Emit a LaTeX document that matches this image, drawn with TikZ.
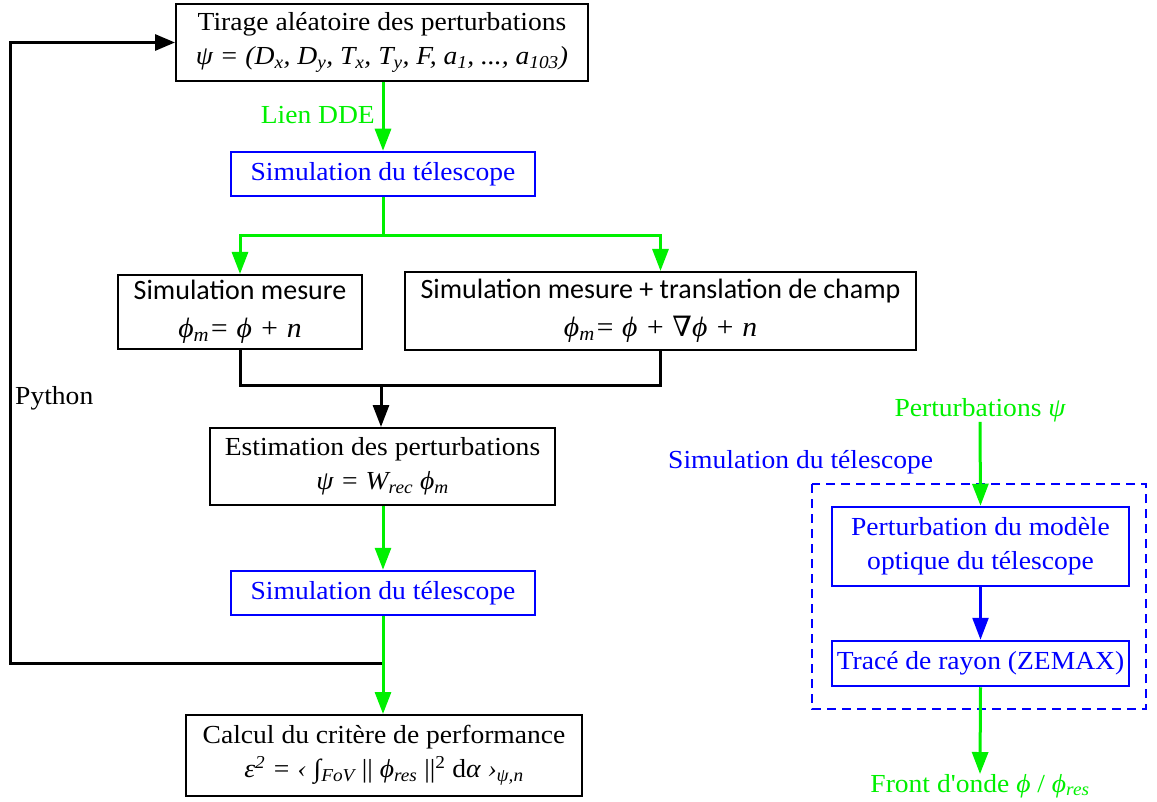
\documentclass[tikz,border=0pt]{standalone}
\usepackage{fontspec}
\setmainfont{Liberation Serif}[FakeStretch=1.06]
\newfontfamily\straightfont{Liberation Serif}[FakeStretch=1.06, Ligatures=TeXOff]
\newfontfamily\calibrifont{Carlito}
\newfontfamily\djvfont{DejaVu Serif}
\usetikzlibrary{arrows.meta}
\definecolor{gr}{RGB}{0,240,0}
\definecolor{bl}{RGB}{0,0,255}
\newcommand{\mysb}[1]{\textsubscript{#1}}
\newcommand{\mysp}[1]{\textsuperscript{#1}}
\newcommand{\vphi}{ϕ}
\tikzset{
  txt/.style={font=\fontsize{26}{34}\selectfont, align=center, inner sep=0pt},
  bbox/.style={txt, draw=black, line width=2pt, fill=white},
  blbox/.style={txt, draw=bl, text=bl, line width=2.5pt, fill=white},
  calbox/.style={bbox, font=\calibrifont\fontsize{28}{38}\selectfont},
  gline/.style={draw=gr, line width=3pt},
  kline/.style={draw=black, line width=3pt},
  bline/.style={draw=bl, line width=2.5pt},
  tipg/.style={-{Triangle[length=22pt,width=16pt]}},
}
\begin{document}
\begin{tikzpicture}[x=1pt,y=-1pt]
\useasboundingbox (0,0) rectangle (1157,802);
% left flow
\node[bbox, minimum width=412pt, minimum height=77pt] (tir) at (382,42.5)
  {Tirage aléatoire des perturbations\\
   \itshape ψ = (D\mysb{x}, D\mysb{y}, T\mysb{x}, T\mysb{y}, F, a\mysb{1}, ..., a\mysb{103})};
\node[blbox, minimum width=304pt, minimum height=44pt] (sim1) at (383,174) {Simulation du télescope};
\node[calbox, minimum width=244pt, minimum height=74pt] (mes1) at (240,312)
  {Simulation mesure\\ {\rmfamily\itshape \vphi\mysb{m}= \vphi\ + n}};
\node[calbox, minimum width=511pt, minimum height=78pt] (mes2) at (660.5,311)
  {Simulation mesure + translation de champ\\ {\rmfamily\itshape \vphi\mysb{m}= \vphi\ + {\upshape\djvfont ∇}\vphi\ + n}};
\node[bbox, minimum width=345pt, minimum height=77pt] (est) at (382.5,466.5)
  {Estimation des perturbations\\ \itshape ψ = W\mysb{rec} \vphi\mysb{m}};
\node[blbox, minimum width=304pt, minimum height=44pt] (sim2) at (383,593) {Simulation du télescope};
\node[bbox, minimum width=396pt, minimum height=81pt] (calc) at (384,755.5)
  {Calcul du critère de performance\\ \itshape ε\mysp{2} = ‹ ∫\mysb{FoV} {\upshape||} \vphi\mysb{res} {\upshape||}\mysp{\upshape 2} {\upshape d}α ›\mysb{ψ,n}};
\node[txt, text=gr, anchor=east] (lien) at (375,115) {Lien DDE};
\node[txt, anchor=west] (py) at (15,398) {Python};

% connectors
\draw[gline, tipg] (tir.south -| sim1.north) -- (sim1.north);
\coordinate (j1) at (383,236);
\draw[gline] (sim1.south) -- (j1);
\draw[gline, tipg] (j1) -| (mes1.north);
\draw[gline, tipg] (j1) -| (mes2.north);
\coordinate (j2) at (381,385);
\draw[kline] (mes1.south) |- (j2);
\draw[kline] (mes2.south) |- (j2);
\draw[kline, tipg] (j2) -- (j2 |- est.north);
\draw[gline, tipg] (est.south -| sim2.north) -- (sim2.north);
\coordinate (j3) at (383,663);
\coordinate (lb) at (10,663);
\coordinate (lt) at (10,42.5);
\draw[kline, line join=miter, -{Triangle[length=20pt,width=16pt]}] (j3) -- (lb) -- (lt) -- (tir.west);
\draw[gline, tipg] (sim2.south) -- (sim2.south |- calc.north);

% right
\draw[bl, line width=2.5pt, dash pattern=on 9pt off 6pt] (812,484) rectangle (1146,709);
\node[txt, text=gr] (pin) at (980,410) {Perturbations {\itshape ψ}};
\node[txt, text=bl, anchor=west] (simlab) at (668,462) {Simulation du télescope};
\node[blbox, minimum width=297pt, minimum height=79pt] (pert) at (980.5,546.5)
  {Perturbation du modèle\\ optique du télescope};
\node[blbox, minimum width=297pt, minimum height=45pt] (trace) at (980.5,663.5) {Tracé de rayon (ZEMAX)};
\node[txt, text=gr] (front) at (980,786) {{\straightfont Front d'onde} {\itshape \vphi} / {\itshape \vphi\mysb{res}}};
\draw[gline, tipg] (pin.south) -- (pert.north);
\draw[bline, tipg] (pert.south) -- (trace.north);
\draw[gline, tipg] (trace.south) -- (front.north);
\end{tikzpicture}
\end{document}
